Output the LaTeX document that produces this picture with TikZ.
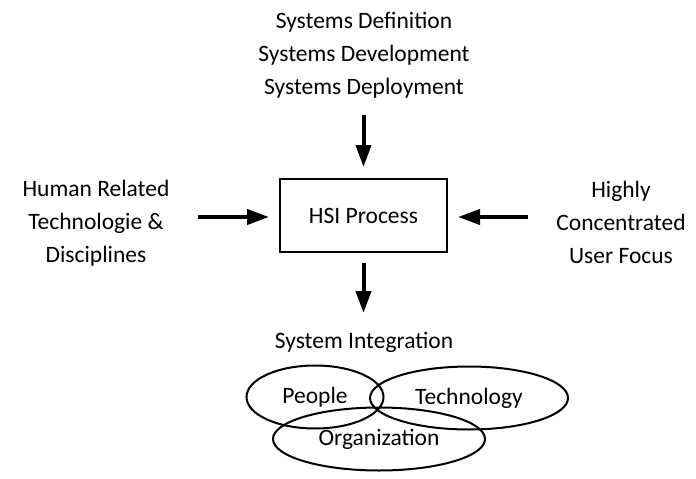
\documentclass[tikz,border=0pt]{standalone}
\usepackage{fontspec}
\setmainfont{Carlito}
\usetikzlibrary{arrows.meta, shapes.geometric, positioning}

\tikzset{
	label text/.style = {align = center, inner sep = 0pt, font = \fontsize{23.5}{33}\selectfont},
	process box/.style = {draw, line width = 2pt, minimum width = 167pt, minimum height = 73pt, font = \fontsize{23.5}{33}\selectfont},
	aspect/.style = {draw, ellipse, line width = 2pt, inner sep = 0pt, font = \fontsize{23.5}{33}\selectfont},
	flow/.style = {->, line width = 4pt}
}

\begin{document}
\begin{tikzpicture}[> = {Triangle[length = 22pt, width = 15pt]}, x = 1pt, y = -1pt]
\useasboundingbox (0, 0) rectangle (696, 479);

	% Process box

	\node [process box] (hsi) at (363.5, 215.5) {HSI Process};

	% Inputs

	\node [label text] (phases) at (364, 55) {Systems Definition\\Systems Development\\Systems Deployment};
	\node [label text] (human) at (96, 223) {Human Related\\Technologie \&\\Disciplines};
	\node [label text] (user) at (621, 222) {Highly\\Concentrated\\User Focus};

	\coordinate (phases out) at (363.5, 115);
	\coordinate (human out) at (198, 217);
	\coordinate (user out) at (528, 217);

	\draw [flow] (phases out) -- ([yshift = 11pt] hsi.north);
	\draw [flow] (human out) -- ([xshift = -10pt] hsi.west |- human out);
	\draw [flow] (user out) -- ([xshift = 10pt] hsi.east |- user out);

	% Output

	\coordinate (integration in) at (363.5, 313);
	\draw [flow] ([yshift = -10pt] hsi.south) -- (integration in);

	\node [label text] (integration) at (364, 342) {System Integration};

	% Overlapping ellipses

	\node [aspect, minimum width = 137pt, minimum height = 63pt] (people) at (315, 397) {People};
	\node [aspect, minimum width = 198pt, minimum height = 63pt] (technology) at (469, 398) {Technology};
	\node [aspect, minimum width = 212pt, minimum height = 63pt] (organization) at (379, 439) {Organization};

\end{tikzpicture}
\end{document}
